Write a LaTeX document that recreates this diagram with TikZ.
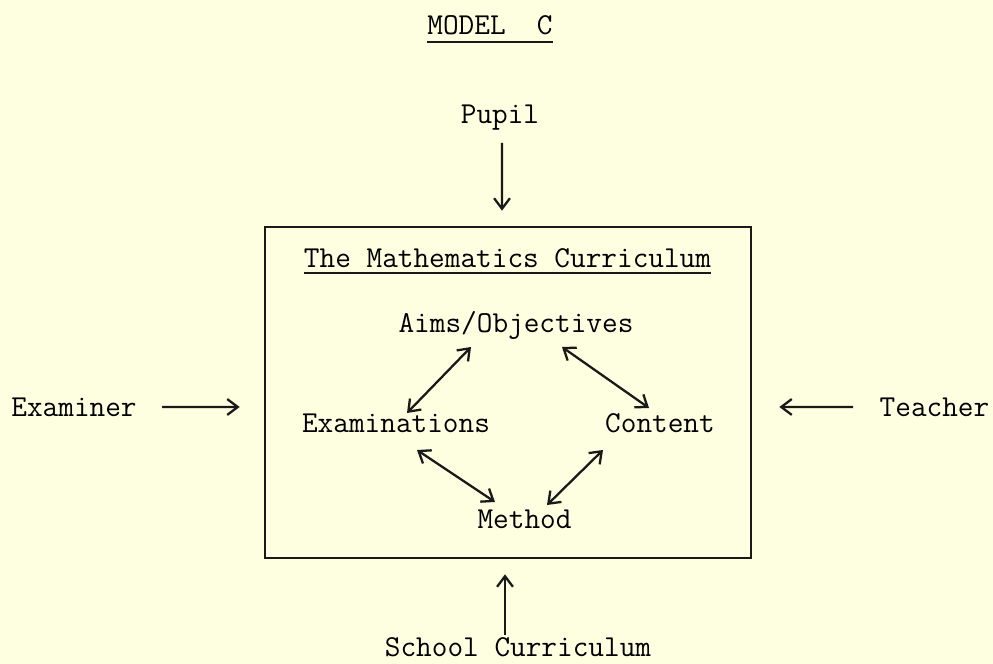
\documentclass[tikz,border=0pt]{standalone}
\usetikzlibrary{positioning,calc,arrows.meta}
\definecolor{paper}{RGB}{254,254,224}

\begin{document}
\begin{tikzpicture}[
    word/.style={font=\fontsize{17.3}{20}\selectfont\ttfamily, anchor=base, inner sep=0pt},
    flow/.style={line width=1.3pt, draw=black!90, -{Straight Barb[length=6pt,width=9pt]}},
    twoway/.style={line width=1.3pt, draw=black!90, {Straight Barb[length=6pt,width=9pt]}-{Straight Barb[length=6pt,width=9pt]}},
    frame/.style={draw=black!90, line width=1.5pt, minimum width=9.72cm, minimum height=6.62cm, inner sep=0pt},
    rule/.style={line width=1.2pt, draw=black!90}
]

    % Paper
    \fill[paper] (0,0) rectangle (19.86,13.28);
    \useasboundingbox (0,0) rectangle (19.86,13.28);

    % Heading
    \node[word] (model) at (9.80,12.58) {MODEL\ \ C};
    \draw[rule] ($(model.base west)+(0,-0.14)$) -- ($(model.base east)+(0,-0.14)$);

    % The curriculum box
    \node[frame] (curric) at (10.16,5.43) {};
    \node[word] (title) at (10.15,7.92) {The Mathematics Curriculum};
    \draw[rule] ($(title.base west)+(0,-0.10)$) -- ($(title.base east)+(0,-0.10)$);

    \node[word] (aims) at (10.32,6.62) {Aims/Objectives};
    \node[word] (exams) at (7.92,4.62) {Examinations};
    \node[word] (content) at (13.20,4.62) {Content};
    \node[word] (method) at (10.49,2.70) {Method};

    \draw[twoway] ([shift={(-0.90,-0.28)}]aims.base) -- ([shift={(0.22,0.40)}]exams.base);
    \draw[twoway] ([shift={(0.92,-0.28)}]aims.base) -- ([shift={(-0.22,0.50)}]content.base);
    \draw[twoway] ([shift={(0.42,-0.34)}]exams.base) -- ([shift={(-0.59,0.54)}]method.base);
    \draw[twoway] ([shift={(-1.14,-0.34)}]content.base) -- ([shift={(0.45,0.48)}]method.base);

    % Influences from outside
    \node[word] (pupil) at (10.00,10.80) {Pupil};
    \node[word] (examiner) at (1.48,4.94) {Examiner};
    \node[word] (teacher) at (18.69,4.94) {Teacher};
    \node[word] (school) at (10.36,0.14) {School Curriculum};

    \draw[flow] ([shift={(0.04,-0.38)}]pupil.base) -- ([shift={(-0.12,0.30)}]curric.north);
    \draw[flow] ([shift={(1.76,0.20)}]examiner.base) -- ([shift={(-0.48,-0.29)}]curric.west);
    \draw[flow] ([shift={(-1.63,0.20)}]teacher.base) -- ([shift={(0.54,-0.29)}]curric.east);
    \draw[flow] ([shift={(-0.26,0.44)}]school.base) -- ([shift={(-0.06,-0.30)}]curric.south);

\end{tikzpicture}
\end{document}
